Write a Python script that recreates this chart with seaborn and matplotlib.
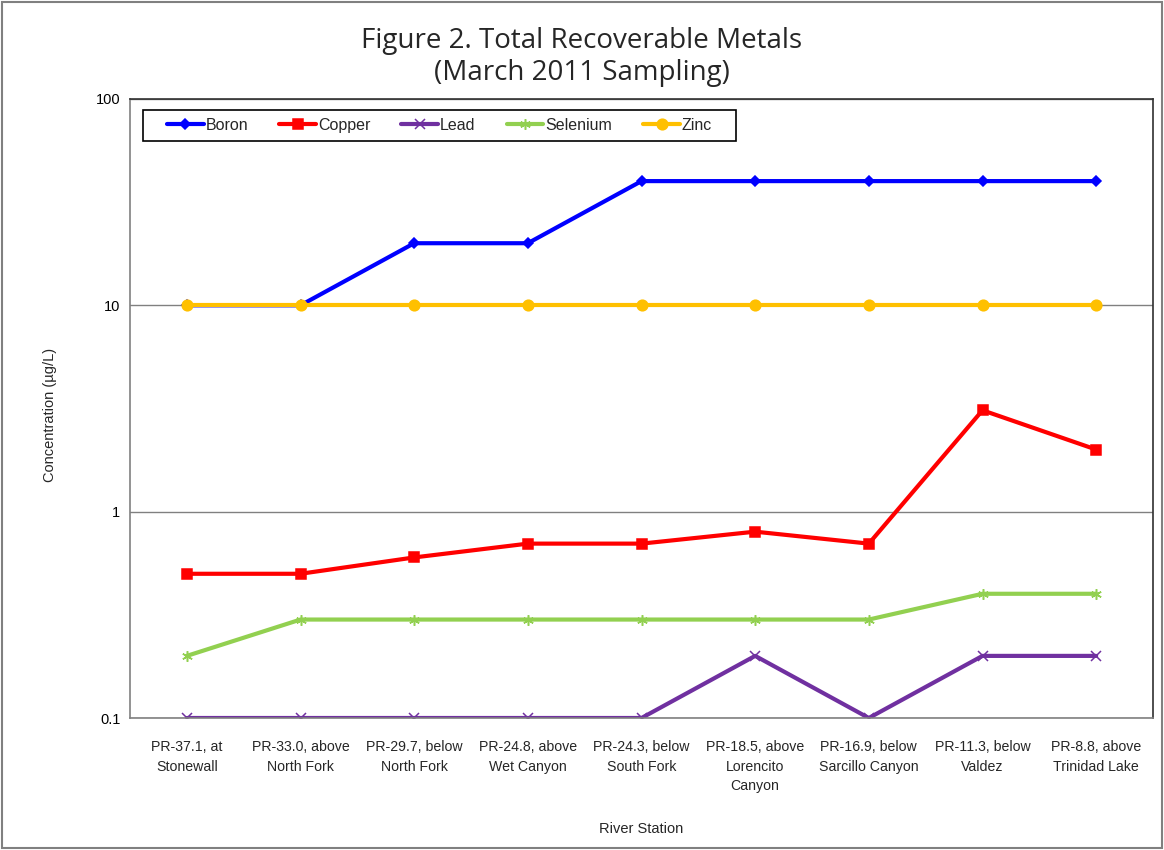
import matplotlib
matplotlib.use("Agg")
import matplotlib.pyplot as plt
import seaborn as sns
import pandas as pd
import numpy as np
from matplotlib.ticker import FixedLocator, NullFormatter, LogLocator, FuncFormatter

stations = ["PR-37.1, at\nStonewall", "PR-33.0, above\nNorth Fork", "PR-29.7, below\nNorth Fork",
            "PR-24.8, above\nWet Canyon", "PR-24.3, below\nSouth Fork", "PR-18.5, above\nLorencito\nCanyon",
            "PR-16.9, below\nSarcillo Canyon", "PR-11.3, below\nValdez", "PR-8.8, above\nTrinidad Lake"]
boron = [10, 10, 20, 20, 40, 40, 40, 40, 40]
copper = [0.5, 0.5, 0.6, 0.7, 0.7, 0.8, 0.7, 3.1, 2.0]
lead = [0.1, 0.1, 0.1, 0.1, 0.1, 0.2, 0.1, 0.2, 0.2]
selenium = [0.2, 0.3, 0.3, 0.3, 0.3, 0.3, 0.3, 0.4, 0.4]
zinc = [10, 10, 10, 10, 10, 10, 10, 10, 10]
metals = ["Boron", "Copper", "Lead", "Selenium", "Zinc"]

sns.set_theme(style="white")
plt.rcParams['font.family'] = ['Liberation Sans', 'DejaVu Sans']
lblfont = ['Liberation Sans', 'DejaVu Sans']

palette = {"Boron": "#0000FF", "Copper": "#FF0000", "Lead": "#7030A0",
           "Selenium": "#92D050", "Zinc": "#FFC000"}
markers = {"Boron": "D", "Copper": "s", "Lead": "x", "Selenium": (6, 2, 0), "Zinc": "o"}
msize = {"Boron": 6.5, "Copper": 9, "Lead": 8.5, "Selenium": 9, "Zinc": 9}

fig = plt.figure(figsize=(11.64, 8.5), dpi=100)
ax = fig.add_axes([130/1164, 132/850, 1023/1164, 619/850])

for m, vals in zip(metals, [boron, copper, lead, selenium, zinc]):
    d = pd.DataFrame({"Station": np.arange(len(vals)), "Value": vals})
    sns.lineplot(data=d, x="Station", y="Value", color=palette[m], marker=markers[m],
                 markersize=msize[m], markeredgecolor=palette[m], markeredgewidth=1.1,
                 linewidth=2.6, sort=False, ax=ax, label=m)

ax.set_yscale("log")
ax.set_ylim(0.1, 100)
ax.set_xlim(-0.5, 8.5)
ax.yaxis.set_major_locator(FixedLocator([0.1, 1, 10, 100]))
ax.yaxis.set_major_formatter(FuncFormatter(lambda v, p: f"{v:g}"))
ax.yaxis.set_minor_locator(LogLocator(base=10, subs=np.arange(2, 10)))
ax.yaxis.set_minor_formatter(NullFormatter())
ax.tick_params(axis="y", which="major", direction="out", length=5, width=1, colors="#808080",
               labelcolor="black", labelsize=10.5, pad=2)
ax.tick_params(axis="y", which="minor", direction="inout", length=6, width=1, colors="#808080")
ax.grid(axis="y", which="major", color="#808080", linewidth=1)

ax.set_xticks(range(len(stations)))
ax.set_xticklabels(stations, fontsize=10.2, family=lblfont, linespacing=1.5)
ax.xaxis.set_minor_locator(FixedLocator(np.arange(-0.5, 9, 1)))
ax.tick_params(axis="x", which="major", length=0, pad=16)
ax.tick_params(axis="x", which="minor", direction="out", length=6, width=1, colors="#808080")

for s in ax.spines.values():
    s.set_color("#303030")
    s.set_linewidth(1.2)
ax.spines["left"].set_color("#808080")
ax.spines["bottom"].set_color("#808080")

ax.set_xlabel("River Station", fontsize=10.5, family=lblfont)
ax.xaxis.set_label_coords(0.5, -(822 - 718) / 619)
ax.set_ylabel("Concentration (µg/L)", fontsize=10.5, family=lblfont)
ax.yaxis.set_label_coords(-(130 - 57) / 1023, 0.49)

# legend box
box_l, box_r, box_t, box_b = 143, 736, 110, 141
rect = plt.Rectangle(((box_l - 130) / 1023, (718 - box_b) / 619), (box_r - box_l) / 1023,
                     (box_b - box_t) / 619, transform=ax.transAxes, facecolor="white",
                     edgecolor="black", linewidth=1.2, zorder=4)
ax.add_patch(rect)

handles, labels = ax.get_legend_handles_labels()
for h, m in zip(handles, labels):
    if m in msize:
        h.set_markersize(msize[m] * 0.85)
        h.set_linewidth(3)
leg = ax.legend(handles, labels, loc="center",
                bbox_to_anchor=(((box_l + box_r) / 2 - 130) / 1023, (718 - (box_t + box_b) / 2) / 619),
                ncol=5, frameon=False, handlelength=2.3, handletextpad=0.12,
                columnspacing=1.95, borderpad=0, borderaxespad=0,
                prop={"family": lblfont, "size": 11.5})
leg.set_zorder(5)

fig.text(0.5, 0.952, "Figure 2. Total Recoverable Metals", ha="center", va="center",
         fontsize=20, family=["Open Sans", "DejaVu Sans"])
fig.text(0.5, 0.914, "(March 2011 Sampling)", ha="center", va="center",
         fontsize=20, family=["Open Sans", "DejaVu Sans"])

border = plt.Rectangle((0.002, 0.002), 0.996, 0.996, transform=fig.transFigure,
                       fill=False, edgecolor="#808080", linewidth=1.5)
fig.patches.append(border)

fig.savefig("out.png", dpi=100)
